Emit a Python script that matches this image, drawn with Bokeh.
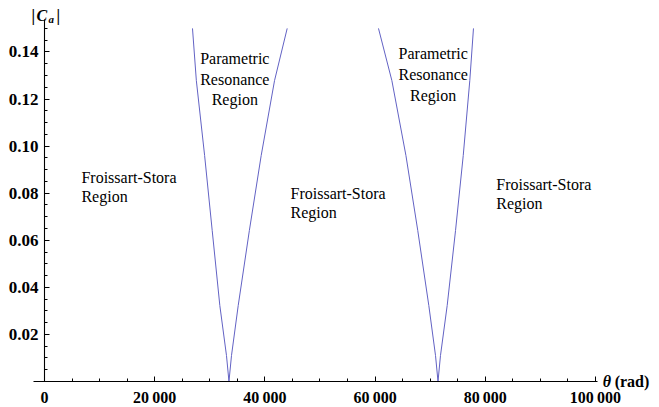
from bokeh.plotting import figure
from bokeh.models import Range1d, FixedTicker, NumeralTickFormatter
from bokeh.core.properties import value
from bokeh.embed import file_html
from bokeh.resources import INLINE

# Boundary curves of the two parametric resonance windows: theta (rad) vs |C_a|
theta_res1 = [26860, 27560, 29060, 30440, 31820, 33030, 33480, 33940, 35160, 37180, 39330, 41750, 44050]
theta_res2 = [60620, 63050, 65600, 67750, 69750, 70970, 71420, 71870, 73090, 74600, 76000, 77190, 77860]
ca_boundary = [0.150, 0.1278, 0.0960, 0.0641, 0.0323, 0.0110, 0.0, 0.0110, 0.0323, 0.0641, 0.0960, 0.1278, 0.150]

# Axis ticks
x_major = [0, 20000, 40000, 60000, 80000, 100000]
x_labels = ["0", "20\u2009000", "40\u2009000", "60\u2009000", "80\u2009000", "100\u2009000"]
y_major = [0.02, 0.04, 0.06, 0.08, 0.10, 0.12, 0.14]

# Region annotations (one entry per text line)
fs_x = [6700, 6700, 44650, 44650, 82000, 82000]
fs_y = [0.0867, 0.0786, 0.0800, 0.0717, 0.0837, 0.0755]
fs_text = ["Froissart-Stora", "Region", "Froissart-Stora", "Region", "Froissart-Stora", "Region"]

pr_x = [34540, 34540, 34540, 70550, 70550, 70550]
pr_y = [0.1371, 0.1283, 0.1197, 0.1392, 0.1304, 0.1216]
pr_text = ["Parametric", "Resonance", "Region", "Parametric", "Resonance", "Region"]

SERIF = value("Liberation Serif")

p = figure(width=659, height=407,
           x_range=Range1d(-7986, 111622), y_range=Range1d(-0.01105, 0.16185),
           output_backend="svg", toolbar_location=None, min_border=0,
           background_fill_color="white", border_fill_color="white")
p.outline_line_color = None
p.xgrid.visible = False
p.ygrid.visible = False

# Axes crossing at the origin
xa = p.xaxis[0]
ya = p.yaxis[0]
xa.fixed_location = 0
ya.fixed_location = 0
xa.bounds = (-2000, 100400)
ya.bounds = (0, 0.1537)

xa.ticker = FixedTicker(ticks=x_major, minor_ticks=list(range(0, 100001, 5000)))
xa.major_label_overrides = {t: s for t, s in zip(x_major, x_labels)}
ya.ticker = FixedTicker(ticks=y_major, minor_ticks=[i * 0.005 for i in range(1, 31)])
ya.formatter = NumeralTickFormatter(format="0.00")

for ax in (xa, ya):
    ax.axis_line_color = "black"
    ax.axis_line_width = 1.1
    ax.major_tick_in = 5
    ax.major_tick_out = 0
    ax.minor_tick_in = 3
    ax.minor_tick_out = 0
    ax.major_tick_line_color = "black"
    ax.minor_tick_line_color = "black"
    ax.major_label_text_font = "Liberation Serif"
    ax.major_label_text_font_style = "bold"
    ax.major_label_text_color = "black"
xa.major_label_text_font_size = "16px"
ya.major_label_text_font_size = "17px"
xa.major_label_standoff = 8
ya.major_label_standoff = 6

# Resonance boundaries
for th in (theta_res1, theta_res2):
    p.line(th, ca_boundary, line_color="#6262c4", line_width=1.0)

# Region labels
p.text(fs_x, fs_y, text=fs_text, text_font=SERIF, text_font_size="16px",
       text_align="left", text_baseline="middle", text_color="black")
p.text(pr_x, pr_y, text=pr_text, text_font=SERIF, text_font_size="16px",
       text_align="center", text_baseline="middle", text_color="black")

# Axis labels: |C_a| at the top of the vertical axis, theta (rad) at the end of the horizontal one
p.text([-2360], [0.1555], text=["|"], text_font=SERIF, text_font_size="16px",
       text_font_style="bold", text_baseline="middle", text_color="black")
p.text([-2360], [0.1555], text=["C"], x_offset=5, text_font=SERIF, text_font_size="16px",
       text_font_style="bold italic", text_baseline="middle", text_color="black")
p.text([-2360], [0.1555], text=["a"], x_offset=17, y_offset=4, text_font=SERIF,
       text_font_size="11px", text_font_style="bold italic", text_baseline="middle",
       text_color="black")
p.text([-2360], [0.1555], text=["|"], x_offset=25, text_font=SERIF, text_font_size="16px",
       text_font_style="bold", text_baseline="middle", text_color="black")

p.text([101300], [0], text=["\u03b8"], text_font=SERIF, text_font_size="16px",
       text_font_style="bold italic", text_baseline="middle", text_color="black")
p.text([101300], [0], text=["(rad)"], x_offset=12, text_font=SERIF, text_font_size="16px",
       text_font_style="bold", text_baseline="middle", text_color="black")

open("out.html", "w").write(file_html(p, INLINE))
